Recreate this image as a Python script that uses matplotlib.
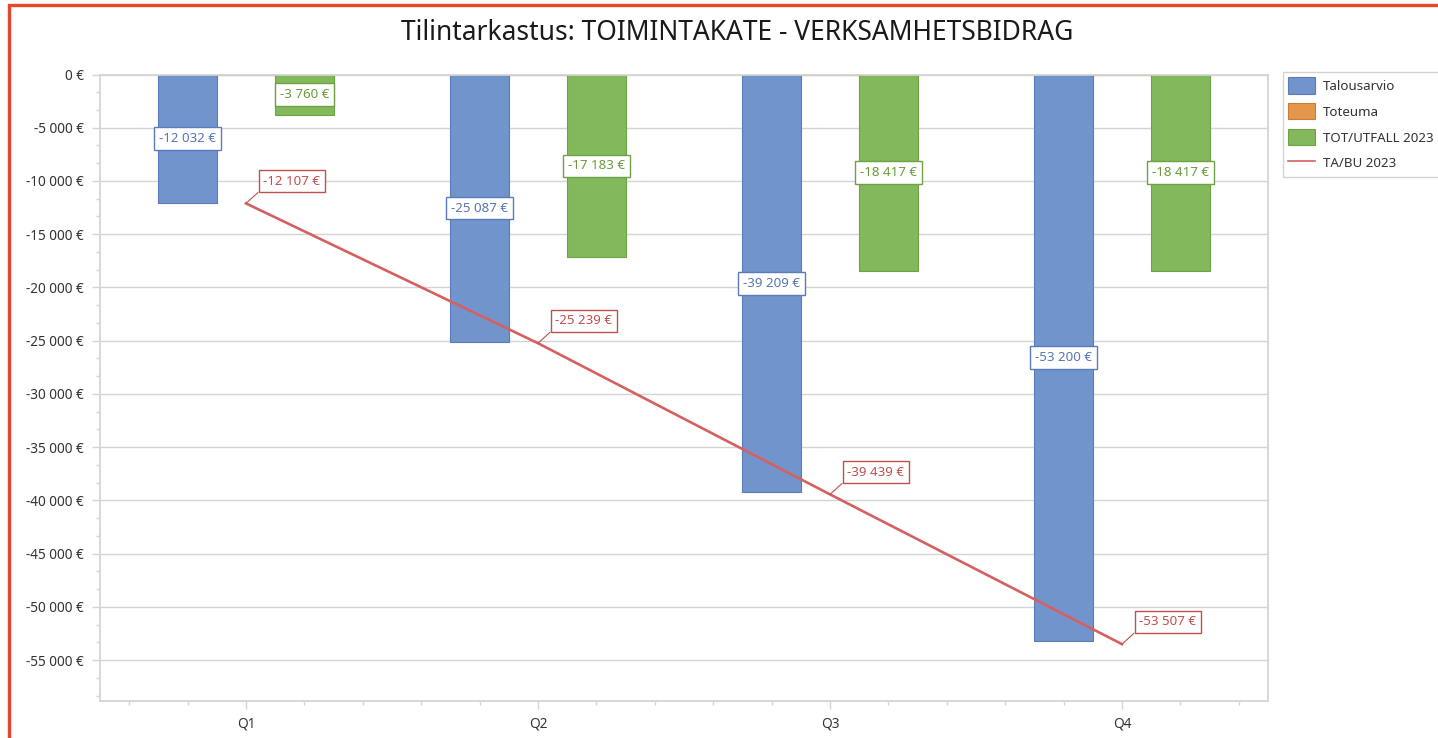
import matplotlib
matplotlib.use("Agg")
import matplotlib.pyplot as plt
from matplotlib.ticker import FixedLocator, FuncFormatter, MultipleLocator
from matplotlib.patches import Rectangle
import numpy as np

plt.rcParams['font.family'] = ['Noto Sans', 'DejaVu Sans']

categories = ["Q1", "Q2", "Q3", "Q4"]
talousarvio = [-12032, -25087, -39209, -53200]
toteuma = [0, 0, 0, 0]
tot_utfall_2023 = [-3760, -17183, -18417, -18417]
ta_bu_2023 = [-12107, -25239, -39439, -53507]
title = "Tilintarkastus: TOIMINTAKATE - VERKSAMHETSBIDRAG"
series_names = ["Talousarvio", "Toteuma", "TOT/UTFALL 2023", "TA/BU 2023"]

BLUE, BLUE_E, BLUE_T = "#7294cd", "#5b7cb9", "#5677b5"
ORANGE, ORANGE_E = "#e2974b", "#c87d35"
GREEN, GREEN_E, GREEN_T = "#84b95b", "#6fa244", "#6a9c3c"
RED, RED_T = "#d4605f", "#c0504d"
GRID = "#d4d4d4"

def eur(v, pos=None):
    s = f"{abs(int(round(v))):,}".replace(",", " ")
    return ("-" if v < 0 else "") + s + " €"

W, H = 1438, 738
fig = plt.figure(figsize=(W / 100, H / 100), dpi=100)
ax = fig.add_axes([100 / W, 1 - 700.5 / H, (1268 - 100) / W, (700.5 - 74.5) / H])

x = np.arange(len(categories))
bw = 0.2
h1 = ax.bar(x - bw, talousarvio, bw, color=BLUE, edgecolor=BLUE_E, linewidth=0.8, zorder=2, label=series_names[0])
h2 = ax.bar(x, toteuma, bw, color=ORANGE, edgecolor=ORANGE_E, linewidth=0.8, zorder=2, label=series_names[1])
h3 = ax.bar(x + bw, tot_utfall_2023, bw, color=GREEN, edgecolor=GREEN_E, linewidth=0.8, zorder=2, label=series_names[2])
h4, = ax.plot(x, ta_bu_2023, color=RED, linewidth=1.9, zorder=3, label=series_names[3])

lab_fs = 9.6
bpad = "square,pad=0.36"
for xi, v in zip(x - bw, talousarvio):
    ax.text(xi, v / 2, eur(v), ha="center", va="center", fontsize=lab_fs, color=BLUE_T, zorder=5,
            bbox=dict(boxstyle=bpad, fc="white", ec=BLUE_E, lw=1.0))
for xi, v in zip(x + bw, tot_utfall_2023):
    ax.text(xi, v / 2, eur(v), ha="center", va="center", fontsize=lab_fs, color=GREEN_T, zorder=5,
            bbox=dict(boxstyle=bpad, fc="white", ec=GREEN_E, lw=1.0))
for xi, v in zip(x, ta_bu_2023):
    ax.annotate(eur(v), xy=(xi, v), xytext=(33, 16), textcoords="offset points",
                ha="center", va="center", fontsize=lab_fs, color=RED_T, zorder=6,
                bbox=dict(boxstyle=bpad, fc="white", ec=RED_T, lw=1.0),
                arrowprops=dict(arrowstyle="-", color=RED_T, lw=0.8, shrinkA=0, shrinkB=0,
                                relpos=(0, 0)))

ax.set_xlim(-0.5, 3.5)
ax.set_xticks(x)
ax.set_xticklabels(categories)
ax.xaxis.set_minor_locator(FixedLocator([c + d for c in x for d in (-0.4, -0.2, 0.2, 0.4)]))
ax.yaxis.set_major_locator(MultipleLocator(5000))
ax.yaxis.set_minor_locator(FixedLocator([-5000 * k - d for k in range(12) for d in (5000 / 3, 10000 / 3)]))
ax.yaxis.set_major_formatter(FuncFormatter(eur))
ax.set_ylim(-58800, 0)

ax.tick_params(axis="both", which="major", length=6, width=1, color=GRID, labelsize=9.8,
               labelcolor="#333333", pad=5.5)
ax.tick_params(axis="both", which="minor", length=3, width=1, color=GRID)
ax.grid(axis="y", which="major", color=GRID, linewidth=1.0, zorder=0)
ax.set_axisbelow(True)
for sp in ax.spines.values():
    sp.set_color(GRID)
    sp.set_linewidth(1.3)

fig.text(737 / W, 1 - 33 / H, title, ha="center", va="center", fontsize=19, color="#1a1a1a")

leg = fig.legend(handles=[h1, h2, h3, h4], labels=series_names, loc="upper left",
                 bbox_to_anchor=(1283 / W, 1 - 72 / H), borderaxespad=0,
                 frameon=True, fancybox=False, edgecolor="#c8c8c8", fontsize=9.6,
                 handlelength=2.0, handleheight=1.5, labelspacing=0.72, handletextpad=0.6,
                 borderpad=0.4)
for t in leg.get_texts():
    t.set_color("#333333")
leg.get_frame().set_linewidth(1.0)
for ln in leg.get_lines():
    ln.set_linewidth(1.2)

fig.patches.append(Rectangle((9 / W, -0.1), 1.2, 1 - 5.5 / H + 0.1, transform=fig.transFigure,
                             fill=False, edgecolor="#e8472b", linewidth=2.4, zorder=10))

fig.savefig("out.png", dpi=100)
